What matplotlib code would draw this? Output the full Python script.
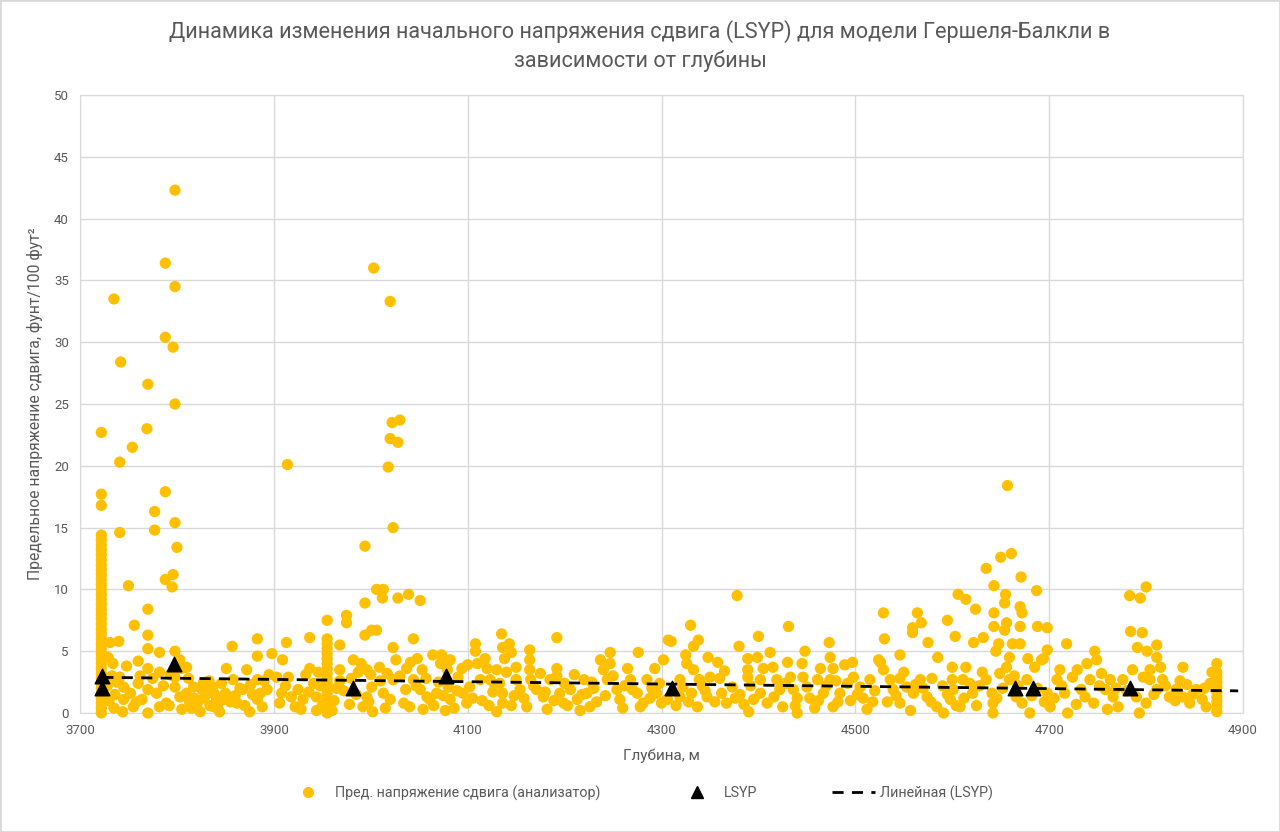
import matplotlib
matplotlib.use("Agg")
import matplotlib.pyplot as plt
import numpy as np
from matplotlib.lines import Line2D
from matplotlib.patches import Rectangle

plt.rcParams["font.family"] = ["Roboto", "DejaVu Sans"]

# Данные анализатора: отдельные точки по интервалам глубин (глубина, м; напряжение)
zone_1 = [
    (3731, 5.7), (3729, 4.5), (3734, 4.0), (3741, 2.9), (3735, 33.5), (3742, 28.4),
    (3741, 20.3), (3754, 21.5), (3741, 14.6), (3750, 10.3), (3756, 7.1), (3740, 5.8),
    (3770, 26.6), (3769, 23.0), (3777, 16.3), (3777, 14.8), (3770, 8.4), (3770, 6.3),
    (3770, 5.2), (3782, 4.9), (3788, 36.4), (3788, 30.4), (3796, 29.6), (3798, 34.5),
    (3798, 42.3), (3798, 25.0), (3788, 17.9), (3798, 15.4), (3800, 13.4), (3796, 11.2),
    (3788, 10.8), (3795, 10.2), (3798, 5.0), (3803, 4.3), (3810, 3.7), (3770, 3.6),
    (3782, 3.3), (3793, 3.1), (3745, 2.1), (3752, 1.6), (3745, 1.1), (3744, 0.1),
    (3755, 0.5), (3764, 1.1), (3770, 1.9), (3770, 0.0), (3779, 1.6), (3782, 0.5),
    (3789, 0.8), (3798, 2.1), (3803, 1.3), (3810, 1.6), (3817, 2.1), (3821, 0.8),
    (3824, 0.1), (3827, 2.4), (3831, 1.6), (3834, 0.6), (3837, 2.1), (3841, 1.1),
    (3844, 0.1), (3850, 1.6), (3851, 3.6), (3857, 5.4), (3858, 2.7), (3862, 0.8),
    (3868, 1.9), (3872, 3.5), (3875, 0.1), (3883, 6.0), (3883, 4.6), (3883, 2.7),
    (3883, 1.1), (3893, 1.9), (3898, 4.8), (3733, 3.0), (3738, 2.5), (3736, 1.5),
    (3748, 3.8), (3760, 2.4), (3762, 3.0), (3758, 0.9), (3775, 2.8), (3786, 2.2),
    (3792, 0.6), (3805, 0.3), (3812, 2.8), (3815, 0.4), (3828, 1.2), (3838, 0.5),
    (3846, 2.4), (3855, 0.9), (3865, 2.0), (3878, 1.5), (3888, 0.5), (3895, 3.1),
    (3798, 2.9), (3805, 3.6), (3730, 1.0), (3728, 2.2), (3735, 0.4), (3760, 4.2),
    (3818, 1.2), (3826, 1.9), (3833, 2.6), (3842, 0.7), (3848, 1.1), (3860, 1.4),
    (3870, 0.6), (3876, 2.3), (3886, 1.6), (3890, 2.6), (3813, 0.9), (3839, 1.5),
]

zone_2 = [
    (3903, 2.9), (3906, 0.8), (3909, 4.3), (3913, 5.7), (3915, 2.9), (3918, 1.3),
    (3922, 0.5), (3925, 1.9), (3914, 20.1), (3937, 6.1), (3937, 3.6), (3941, 2.4),
    (3944, 1.3), (3944, 0.2), (3960, 0.2), (3962, 1.0), (3950, 0.6), (3948, 2.2),
    (3965, 2.0), (3968, 5.5), (3968, 3.5), (3968, 2.6), (3975, 7.9), (3975, 7.3),
    (3982, 4.3), (3987, 3.3), (3994, 6.3), (3994, 8.9), (3996, 3.5), (3996, 1.3),
    (4001, 6.7), (4006, 10.0), (4001, 2.1), (3992, 0.5), (4002, 0.1), (3994, 13.5),
    (4003, 36.0), (4020, 33.3), (4030, 23.7), (4022, 23.5), (4020, 22.2), (4028, 21.9),
    (4018, 19.9), (4023, 15.0), (4013, 10.0), (4012, 9.3), (4028, 9.3), (4039, 9.6),
    (4051, 9.1), (4006, 6.7), (4044, 6.0), (4023, 5.3), (4009, 3.7), (4023, 2.7),
    (4013, 1.6), (4020, 1.1), (4034, 0.8), (4037, 3.6), (4041, 4.1), (4048, 4.4),
    (4053, 3.5), (4044, 2.7), (4051, 1.9), (4058, 1.3), (4064, 4.7), (4073, 4.7),
    (4072, 4.0), (4082, 4.3), (4079, 3.5), (4080, 2.1), (4082, 1.1), (4077, 0.2),
    (4061, 1.1), (4068, 1.6), (4090, 2.9), (4094, 3.6), (4100, 3.9), (4095, 1.6),
    (4099, 0.8), (3985, 1.5), (3978, 0.7), (3972, 1.8), (4010, 2.6), (4015, 0.4),
    (4030, 3.0), (4040, 0.5), (4047, 2.2), (4057, 2.8), (4065, 0.6), (4070, 2.5),
    (4086, 0.4), (4089, 1.8), (3930, 1.1), (3933, 3.1), (3908, 1.6), (3990, 4.0),
    (4000, 3.1), (4026, 4.3), (3912, 2.2), (3928, 0.3), (3936, 1.7), (3946, 3.3),
    (3980, 2.8), (3998, 0.9), (4017, 3.2), (4036, 1.9), (4054, 0.3), (4075, 1.4),
]

zone_3 = [
    (4102, 2.1), (4108, 5.6), (4108, 5.0), (4110, 4.0), (4113, 2.7), (4118, 4.4),
    (4120, 3.6), (4123, 2.7), (4126, 1.7), (4130, 3.5), (4135, 6.4), (4136, 5.3),
    (4138, 4.4), (4140, 3.3), (4143, 5.6), (4145, 4.9), (4136, 1.6), (4136, 0.8),
    (4130, 0.1), (4150, 3.7), (4150, 2.7), (4154, 1.9), (4164, 5.1), (4164, 4.3),
    (4164, 3.5), (4165, 2.7), (4161, 0.5), (4171, 1.9), (4178, 1.3), (4185, 2.7),
    (4192, 6.1), (4192, 3.6), (4192, 3.0), (4195, 1.6), (4199, 0.8), (4206, 1.9),
    (4213, 1.1), (4220, 2.7), (4223, 1.6), (4226, 0.5), (4237, 4.3), (4240, 3.5),
    (4247, 4.9), (4247, 4.0), (4244, 2.7), (4254, 1.9), (4257, 1.1), (4265, 3.6),
    (4268, 2.7), (4276, 4.9), (4275, 1.6), (4281, 0.8), (4285, 2.7), (4293, 3.6),
    (4295, 1.6), (4302, 4.3), (4306, 1.1), (4307, 5.9), (4310, 5.8), (4325, 4.7),
    (4326, 4.0), (4330, 7.1), (4338, 5.9), (4333, 5.4), (4348, 4.5), (4358, 4.1),
    (4350, 2.9), (4339, 2.7), (4333, 3.5), (4331, 1.6), (4337, 0.5), (4319, 2.7),
    (4319, 1.3), (4347, 1.3), (4360, 2.8), (4367, 0.8), (4373, 2.1), (4378, 9.5),
    (4380, 5.4), (4381, 1.5), (4389, 4.4), (4389, 3.5), (4389, 2.9), (4390, 0.1),
    (4399, 4.5), (4400, 6.2), (4402, 2.7), (4402, 1.6), (4409, 0.8), (4412, 4.9),
    (4415, 3.7), (4419, 2.7), (4422, 1.9), (4430, 4.1), (4431, 7.0), (4433, 2.9),
    (4436, 1.9), (4440, 1.2), (4440, 0.0), (4445, 4.0), (4446, 2.9), (4448, 5.0),
    (4115, 1.0), (4128, 2.3), (4145, 0.6), (4158, 1.2), (4175, 3.2), (4182, 0.3),
    (4200, 2.4), (4210, 3.1), (4216, 0.2), (4230, 2.0), (4233, 0.9), (4250, 3.0),
    (4260, 0.4), (4270, 1.9), (4288, 1.2), (4298, 2.4), (4315, 0.6), (4322, 2.1),
    (4342, 2.2), (4355, 0.9), (4365, 3.4), (4385, 0.7), (4395, 1.1), (4405, 3.6),
    (4425, 0.5), (4428, 2.4), (4105, 1.2), (4122, 0.6), (4133, 2.4), (4148, 1.4),
    (4168, 2.2), (4180, 1.7), (4189, 1.0), (4203, 0.6), (4218, 1.5), (4228, 2.5),
    (4242, 1.4), (4262, 2.2), (4278, 0.5), (4290, 2.0), (4300, 0.8), (4328, 0.9),
    (4345, 1.8), (4362, 1.6), (4376, 1.2), (4392, 2.2), (4416, 1.3), (4438, 0.6),
]

zone_4 = [
    (4450, 2.1), (4453, 1.2), (4461, 2.7), (4464, 3.6), (4467, 1.6), (4474, 4.5),
    (4473, 5.7), (4477, 3.6), (4474, 2.7), (4477, 0.5), (4484, 1.6), (4489, 3.9),
    (4497, 4.1), (4498, 2.9), (4492, 2.4), (4505, 2.1), (4508, 1.2), (4515, 2.7),
    (4526, 4.1), (4529, 3.5), (4536, 2.7), (4539, 1.9), (4546, 2.8), (4546, 4.7),
    (4553, 2.1), (4560, 1.6), (4546, 0.8), (4567, 2.7), (4574, 1.3), (4579, 2.8),
    (4585, 4.5), (4584, 0.5), (4595, 1.5), (4600, 3.7), (4600, 2.7), (4604, 0.6),
    (4591, 0.0), (4529, 8.1), (4530, 6.0), (4564, 8.1), (4568, 7.3), (4559, 6.9),
    (4559, 6.5), (4575, 5.7), (4595, 7.5), (4603, 6.2), (4524, 4.3), (4606, 9.6),
    (4614, 9.2), (4624, 8.4), (4643, 10.3), (4635, 11.7), (4650, 12.6), (4661, 12.9),
    (4657, 18.4), (4671, 11.0), (4687, 9.9), (4655, 9.6), (4654, 8.9), (4670, 8.6),
    (4672, 8.1), (4643, 8.1), (4643, 7.0), (4654, 6.7), (4656, 7.3), (4670, 7.0),
    (4688, 7.0), (4698, 6.9), (4622, 5.7), (4632, 6.1), (4648, 5.6), (4662, 5.6),
    (4670, 5.6), (4645, 5.0), (4659, 4.5), (4678, 4.4), (4698, 5.1), (4694, 4.4),
    (4718, 5.6), (4747, 5.0), (4784, 6.6), (4796, 6.5), (4791, 5.3), (4811, 5.5),
    (4801, 5.0), (4783, 9.5), (4794, 9.3), (4800, 10.2), (4838, 3.7), (4868, 3.3),
    (4811, 4.5), (4815, 3.7), (4804, 3.5), (4797, 2.9), (4601, 1.9), (4608, 0.5),
    (4614, 3.7), (4611, 2.7), (4621, 1.6), (4625, 0.6), (4631, 3.3), (4635, 2.7),
    (4641, 1.6), (4642, 0.8), (4642, 0.0), (4649, 3.2), (4656, 3.7), (4659, 2.7),
    (4666, 1.3), (4672, 0.8), (4680, 0.0), (4677, 2.7), (4685, 3.7), (4692, 4.3),
    (4698, 1.6), (4701, 0.5), (4708, 2.7), (4711, 3.5), (4716, 1.6), (4719, 0.0),
    (4724, 2.9), (4729, 3.5), (4733, 1.9), (4739, 4.0), (4742, 2.7), (4746, 0.8),
    (4749, 4.3), (4754, 3.2), (4758, 1.9), (4763, 2.7), (4766, 1.3), (4771, 0.5),
    (4776, 2.7), (4790, 1.3), (4793, 0.0), (4804, 2.7), (4811, 1.9), (4817, 2.7),
    (4824, 1.3), (4831, 1.9), (4838, 1.3), (4845, 0.8), (4852, 1.9), (4858, 1.1),
    (4458, 0.4), (4470, 2.2), (4482, 0.9), (4495, 1.0), (4512, 0.3), (4520, 1.8),
    (4533, 0.9), (4550, 3.3), (4557, 0.2), (4570, 2.0), (4590, 2.2), (4612, 1.2),
    (4628, 2.2), (4652, 2.0), (4664, 3.0), (4688, 2.0), (4695, 0.9), (4705, 1.2),
    (4728, 0.7), (4752, 2.2), (4760, 0.3), (4780, 1.8), (4786, 3.5), (4800, 0.8),
    (4820, 2.2), (4848, 1.5), (4862, 0.5), (4866, 2.4), (4860, 2.0), (4830, 1.0),
    (4842, 2.3), (4462, 1.0), (4480, 2.6), (4502, 1.5), (4518, 0.9), (4542, 1.4),
    (4562, 2.3), (4578, 0.9), (4598, 1.1), (4618, 2.4), (4646, 1.2), (4668, 2.2),
    (4682, 1.4), (4713, 2.2), (4737, 1.3), (4769, 2.0), (4808, 1.5), (4835, 2.6),
]

# Плотные вертикальные "столбики" точек на одной глубине
column_3722 = [0.0, 0.4, 0.8, 1.2, 1.6, 2.0, 2.4, 2.8, 3.2, 3.6, 4.0, 4.4, 4.8,
               5.2, 5.6, 6.0, 6.4, 6.8, 7.2, 7.6, 8.0, 8.4, 8.8, 9.2, 9.6, 10.0,
               10.4, 10.8, 11.2, 11.6, 12.0, 12.4, 12.8, 13.2, 13.6, 14.0, 14.4,
               16.8, 17.7, 22.7]
column_3955 = [0.0, 0.4, 0.8, 1.2, 1.6, 2.0, 2.4, 2.8, 3.2, 3.6, 4.0, 4.4, 4.8,
               5.2, 5.6, 6.0, 7.5]
column_4873 = [0.1, 0.5, 0.9, 1.3, 1.7, 2.1, 2.5, 2.9, 3.3, 4.0]

# LSYP по модели Гершеля-Балкли
lsyp_depth = [3723, 3723, 3797, 3982, 4078, 4311, 4665, 4683, 4783]
lsyp_value = [2, 3, 4, 2, 3, 2, 2, 2, 2]

x_ticks = [3700, 3900, 4100, 4300, 4500, 4700, 4900]
y_ticks = list(range(0, 51, 5))

points = np.array(zone_1 + zone_2 + zone_3 + zone_4, dtype=float)
col_x = np.concatenate([np.full(len(column_3722), 3722.0),
                        np.full(len(column_3955), 3955.0),
                        np.full(len(column_4873), 4873.0)])
col_y = np.array(column_3722 + column_3955 + column_4873, dtype=float)
an_x = np.concatenate([points[:, 0], col_x])
an_y = np.concatenate([points[:, 1], col_y])

gold = "#FFC000"
grey_txt = "#595959"
grid_c = "#D9D9D9"

fig = plt.figure(figsize=(12.8, 8.32), dpi=100)
ax = fig.add_axes([80 / 1280, 1 - 713 / 832, (1243 - 80) / 1280, (713 - 95) / 832])

ax.scatter(an_x, an_y, s=66, color=gold, edgecolors="none", zorder=3, clip_on=False)
ax.scatter(lsyp_depth, lsyp_value, marker="^", s=110, color="black", zorder=5)

# Линейный тренд по LSYP
k, b = np.polyfit(lsyp_depth, lsyp_value, 1)
tx = np.array([min(lsyp_depth), 4895])
ax.plot(tx, k * tx + b, color="black", lw=2, ls=(0, (4, 3)), zorder=4)

ax.set_xlim(3700, 4900)
ax.set_ylim(0, 50)
ax.set_xticks(x_ticks)
ax.set_yticks(y_ticks)
ax.grid(True, color=grid_c, lw=1)
ax.set_axisbelow(True)
for s in ax.spines.values():
    s.set_color(grid_c)
ax.tick_params(length=0, labelsize=9.5, labelcolor=grey_txt, pad=8)

ax.set_xlabel("Глубина, м", fontsize=11, color=grey_txt, labelpad=8)
ax.set_ylabel("Предельное напряжение сдвига, фунт/100 фут²", fontsize=11.3,
              color=grey_txt, labelpad=8)
fig.text(0.5, 0.962, "Динамика изменения начального напряжения сдвига (LSYP) для модели Гершеля-Балкли в",
         ha="center", va="center", fontsize=15.6, color=grey_txt)
fig.text(0.5, 0.927, "зависимости от глубины", ha="center", va="center",
         fontsize=15.6, color=grey_txt)

handles = [
    Line2D([], [], marker="o", ls="none", color=gold, markersize=7),
    Line2D([], [], marker="^", ls="none", color="black", markersize=8),
    Line2D([], [], color="black", lw=2, ls=(0, (4, 3))),
]
labels = ["Пред. напряжение сдвига (анализатор)", "LSYP", "Линейная (LSYP)"]
fig.legend(handles, labels, loc="center", bbox_to_anchor=(0.5, 0.047), ncol=3,
           frameon=False, fontsize=10.3, labelcolor=grey_txt, columnspacing=5.2,
           handlelength=3, handletextpad=0.4)

fig.patches.append(Rectangle((0, 0), 1, 1, transform=fig.transFigure, fill=False,
                             edgecolor=grid_c, lw=2))

fig.savefig("out.png", dpi=100)
